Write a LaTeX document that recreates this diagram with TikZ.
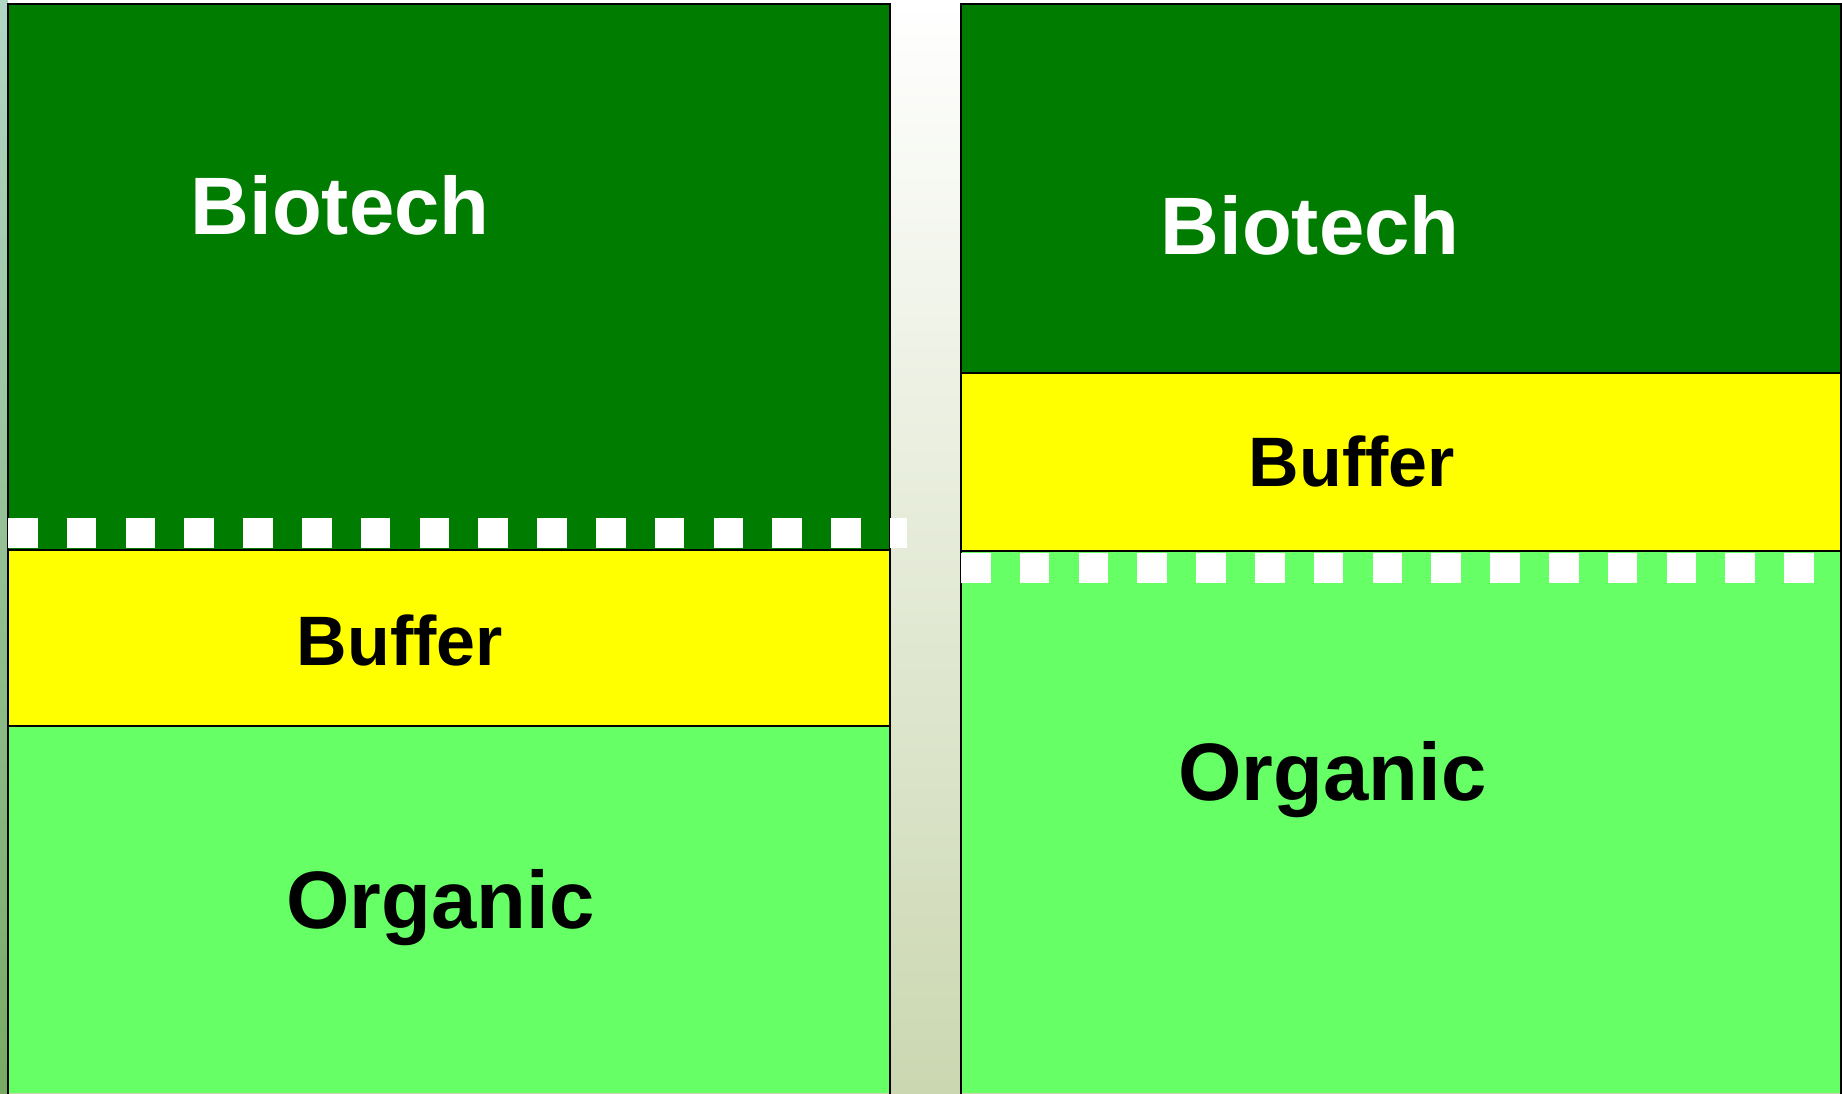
\documentclass[tikz,border=0pt]{standalone}
\usepackage{fontspec}
\setmainfont{Liberation Sans}
\definecolor{techgreen}{RGB}{0,124,0}
\definecolor{bufyellow}{RGB}{255,255,0}
\definecolor{orggreen}{RGB}{102,255,102}
\definecolor{gapgrey}{RGB}{203,215,177}
\definecolor{gapmid}{RGB}{240,243,232}
\definecolor{edgetop}{RGB}{178,214,198}
\definecolor{edgebot}{RGB}{120,170,100}

\begin{document}
\begin{tikzpicture}[x=1pt,y=-1pt,
      band/.style={draw=black,line width=1.5pt},
      word/.style={font=\fontsize{81.5}{96}\selectfont\bfseries,inner sep=0pt,anchor=base},
      fence/.style={white,line width=30pt,dash pattern=on 29.5pt off 29.3pt}]
    \tikzstyle{small word} = [word,font=\fontsize{70}{83}\selectfont\bfseries]
    \useasboundingbox (0,0) rectangle (1842,1093);
    % background of the slide
    \shade[top color=white,middle color=gapmid,bottom color=gapgrey] (0,0) rectangle (1842,1093);
    \shade[top color=edgetop,bottom color=edgebot] (0,0) rectangle (8,1093);
    % left column
    \fill[techgreen] (8,4) rectangle (890,550);
    \fill[bufyellow] (8,550) rectangle (890,726);
    \fill[orggreen] (8,726) rectangle (890,1093);
    \draw[band] (8,1095) -- (8,4) -- (890,4) -- (890,1095);
    \draw[band] (8,550) -- (890,550);
    \draw[band] (8,726) -- (890,726);
    \draw[fence] (8,533) -- (907,533);
    \node[word,text=white] (ltech) at (340,234) {Biotech};
    \node[small word] (lbuf) at (400,665) {Buffer};
    \node[word] (lorg) at (440.5,928) {Organic};
    % right column
    \fill[techgreen] (961,4) rectangle (1841,373);
    \fill[bufyellow] (961,373) rectangle (1841,551);
    \fill[orggreen] (961,551) rectangle (1841,1093);
    \draw[band] (961,1095) -- (961,4) -- (1841,4) -- (1841,1095);
    \draw[band] (961,373) -- (1841,373);
    \draw[band] (961,551) -- (1841,551);
    \draw[fence] (961,568) -- (1841,568);
    \node[word,text=white] (rtech) at (1310,254) {Biotech};
    \node[small word] (rbuf) at (1352,486.7) {Buffer};
    \node[word] (rorg) at (1332.5,800) {Organic};
\end{tikzpicture}
\end{document}
